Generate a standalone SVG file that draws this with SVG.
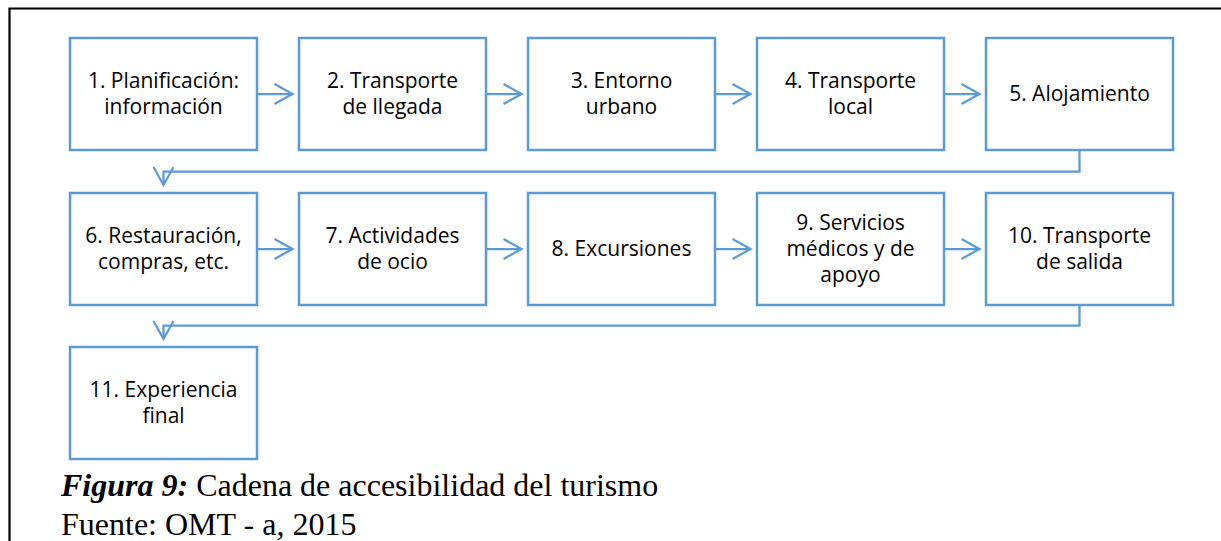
<svg xmlns="http://www.w3.org/2000/svg" width="1221" height="541" viewBox="0 0 1221 541">
<style>
.box{fill:#fff;stroke:#5B9BD5;stroke-width:2.5}
.lbl{font-family:"Open Sans","Liberation Sans",sans-serif;font-size:21px;fill:#000;text-anchor:middle}
.con{fill:none;stroke:#5B9BD5;stroke-width:2.25}
.cap{font-family:"Liberation Serif","Times New Roman",serif;font-size:32px;fill:#000}
</style>
<defs>
<marker id="arr" markerUnits="userSpaceOnUse" markerWidth="22" markerHeight="24" refX="19" refY="11" orient="auto">
<path d="M1,1 L19,11 L1,21" fill="none" stroke="#5B9BD5" stroke-width="2.25"/>
</marker>
</defs>
<rect width="1221" height="541" fill="#fff"/>
<path d="M9.5,541 V8.5 H1221" fill="none" stroke="#000" stroke-width="2.2"/>
<g id="connectors">
<line class="con" x1="257" y1="94" x2="292.5" y2="94" marker-end="url(#arr)"/>
<line class="con" x1="486" y1="94" x2="521.5" y2="94" marker-end="url(#arr)"/>
<line class="con" x1="715" y1="94" x2="750.5" y2="94" marker-end="url(#arr)"/>
<line class="con" x1="944" y1="94" x2="979.5" y2="94" marker-end="url(#arr)"/>
<polyline class="con" points="1079.5,150 1079.5,171.5 163.5,171.5 163.5,185" marker-end="url(#arr)"/>
<line class="con" x1="257" y1="249" x2="292.5" y2="249" marker-end="url(#arr)"/>
<line class="con" x1="486" y1="249" x2="521.5" y2="249" marker-end="url(#arr)"/>
<line class="con" x1="715" y1="249" x2="750.5" y2="249" marker-end="url(#arr)"/>
<line class="con" x1="944" y1="249" x2="979.5" y2="249" marker-end="url(#arr)"/>
<polyline class="con" points="1079.5,305 1079.5,325.7 163.5,325.7 163.5,339" marker-end="url(#arr)"/>
</g>
<g id="n1"><rect class="box" x="70" y="38" width="187" height="112"/><text class="lbl" x="163.5" y="88">1. Planificación:</text><text class="lbl" x="163.5" y="114">información</text></g>
<g id="n2"><rect class="box" x="299" y="38" width="187" height="112"/><text class="lbl" x="392.5" y="88">2. Transporte</text><text class="lbl" x="392.5" y="114">de llegada</text></g>
<g id="n3"><rect class="box" x="528" y="38" width="187" height="112"/><text class="lbl" x="621.5" y="88">3. Entorno</text><text class="lbl" x="621.5" y="114">urbano</text></g>
<g id="n4"><rect class="box" x="757" y="38" width="187" height="112"/><text class="lbl" x="850.5" y="88">4. Transporte</text><text class="lbl" x="850.5" y="114">local</text></g>
<g id="n5"><rect class="box" x="986" y="38" width="187" height="112"/><text class="lbl" x="1079.5" y="101">5. Alojamiento</text></g>
<g id="n6"><rect class="box" x="70" y="193" width="187" height="112"/><text class="lbl" x="163.5" y="243">6. Restauración,</text><text class="lbl" x="163.5" y="269">compras, etc.</text></g>
<g id="n7"><rect class="box" x="299" y="193" width="187" height="112"/><text class="lbl" x="392.5" y="243">7. Actividades</text><text class="lbl" x="392.5" y="269">de ocio</text></g>
<g id="n8"><rect class="box" x="528" y="193" width="187" height="112"/><text class="lbl" x="621.5" y="256">8. Excursiones</text></g>
<g id="n9"><rect class="box" x="757" y="193" width="187" height="112"/><text class="lbl" x="850.5" y="230">9. Servicios</text><text class="lbl" x="850.5" y="256">médicos y de</text><text class="lbl" x="850.5" y="282">apoyo</text></g>
<g id="n10"><rect class="box" x="986" y="193" width="187" height="112"/><text class="lbl" x="1079.5" y="243">10. Transporte</text><text class="lbl" x="1079.5" y="269">de salida</text></g>
<g id="n11"><rect class="box" x="70" y="347" width="187" height="112"/><text class="lbl" x="163.5" y="397">11. Experiencia</text><text class="lbl" x="163.5" y="423">final</text></g>
<g id="caption">
<text class="cap" x="61" y="496"><tspan font-weight="bold" font-style="italic">Figura 9:</tspan> Cadena de accesibilidad del turismo</text>
<text class="cap" x="61" y="535">Fuente: OMT - a, 2015</text>
</g>
</svg>
